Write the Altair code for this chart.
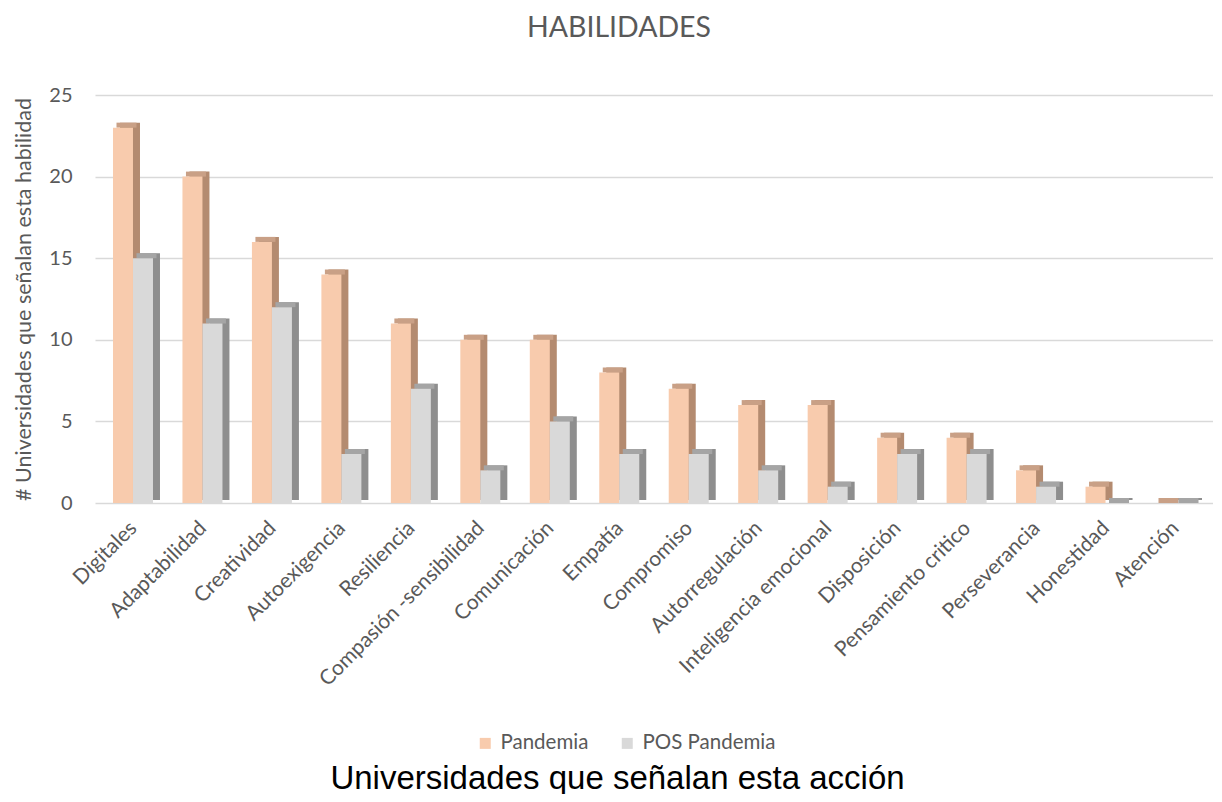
import altair as alt
import pandas as pd

habilidades = ["Digitales", "Adaptabilidad", "Creatividad", "Autoexigencia", "Resiliencia",
               "Compasión -sensibilidad", "Comunicación", "Empatía", "Compromiso",
               "Autorregulación", "Inteligencia emocional", "Disposición",
               "Pensamiento critico", "Perseverancia", "Honestidad", "Atención"]
pandemia = [23, 20, 16, 14, 11, 10, 10, 8, 7, 6, 6, 4, 4, 2, 1, 0]
pos_pandemia = [15, 11, 12, 3, 7, 2, 5, 3, 3, 2, 1, 3, 3, 1, 0, 0]
series = ["Pandemia", "POS Pandemia"]
front_colors = ["#F8CBAD", "#D9D9D9"]
top_colors = ["#C9A086", "#A5A5A5"]
side_colors = ["#B48B70", "#8E8E8E"]

rows = []
for h, a, b in zip(habilidades, pandemia, pos_pandemia):
    rows.append({"habilidad": h, "serie": series[0], "valor": a})
    rows.append({"habilidad": h, "serie": series[1], "valor": b})
df = pd.DataFrame(rows)

GRAY = "#595959"
FONT = "Lato"
BAND = 40.0

x_enc = alt.X("habilidad:N", sort=habilidades,
              scale=alt.Scale(paddingInner=0.424, paddingOuter=0.259),
              axis=alt.Axis(title="Universidades que señalan esta acción",
                            labelAngle=-45, labelAlign="right", labelBaseline="top",
                            labelFont=FONT, labelFontSize=21, labelColor=GRAY,
                            labelPadding=14, labelOffset=-7, labelLimit=400,
                            domain=False, ticks=False, grid=False,
                            titleFont="Liberation Sans", titleFontSize=33,
                            titleFontWeight="normal", titleColor="#000000",
                            titleX=522, titleY=285, titleAlign="center",
                            titleBaseline="alphabetic"))


def xo(shift):
    return alt.XOffset("serie:N", sort=series,
                       scale=alt.Scale(paddingInner=0, paddingOuter=0,
                                       range=[shift, shift + BAND]))


y_enc = alt.Y("valor:Q", scale=alt.Scale(domain=[0, 25], nice=False),
              axis=alt.Axis(title="# Universidades que señalan esta habilidad",
                            values=[0, 5, 10, 15, 20, 25],
                            labelFont=FONT, labelFontSize=20, labelColor=GRAY,
                            labelPadding=23, domain=False, ticks=False,
                            gridColor="#D9D9D9", gridWidth=1.5,
                            titleFont=FONT, titleFontSize=21.5, titleFontWeight="normal",
                            titleColor=GRAY, titleX=-65, titleY=204, titleAngle=-90,
                            titleAlign="center", titleBaseline="alphabetic"))

base = alt.Chart(df)

side = base.mark_bar(yOffset=-5, y2Offset=-3).encode(
    x=x_enc, xOffset=xo(7), y=y_enc, y2=alt.datum(0),
    color=alt.Color("serie:N", sort=series,
                    scale=alt.Scale(domain=series, range=side_colors), legend=None))

top = base.mark_bar(yOffset=-5, y2Offset=0).encode(
    x=x_enc, xOffset=xo(3.5), y="valor:Q", y2="valor:Q",
    color=alt.Color("serie:N", sort=series,
                    scale=alt.Scale(domain=series, range=top_colors), legend=None))

front = base.mark_bar().encode(
    x=x_enc, xOffset=xo(0), y="valor:Q",
    color=alt.Color("serie:N", sort=series,
                    scale=alt.Scale(domain=series, range=front_colors),
                    legend=alt.Legend(title=None, orient="none", direction="horizontal",
                                      legendX=380, legendY=638,
                                      symbolType="square", symbolSize=121,
                                      symbolStrokeWidth=0,
                                      labelFont=FONT, labelFontSize=20.5, labelColor=GRAY,
                                      labelOffset=5, columnPadding=28)))

chart = alt.layer(side, top, front).resolve_scale(
    color="independent", xOffset="independent"
).properties(
    width=1118, height=408,
    autosize=alt.AutoSizeParams(type="none"),
    padding={"left": 87, "top": 87, "right": 0, "bottom": 291},
    title=alt.TitleParams("HABILIDADES", font=FONT, fontSize=28.5, fontWeight="normal",
                          color=GRAY, anchor="middle", dx=-35, offset=43),
).configure_view(stroke=None)

chart.save("out.html", embed_options={"renderer": "svg", "actions": False})
